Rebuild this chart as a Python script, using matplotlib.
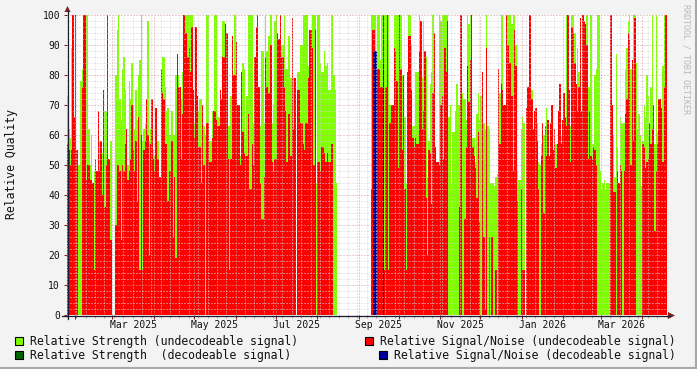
import datetime as dt

import matplotlib
matplotlib.use("Agg")
import matplotlib.dates as mdates
import matplotlib.pyplot as plt
from matplotlib.lines import Line2D
from matplotlib.patches import Polygon, Rectangle

W, H = 697, 369
START = dt.date(2025, 1, 26)

# daily values (one list per stretch of ~2 months)
strength_a = [73, 62, 59, 89, 100, 66, 60, 55, 50, 50, 78, 82, 60, 78, 100, 100, 62, 50, 60, 40,
              48, 50, 48, 50, 58, 48, 54, 67, 68, 68, 63, 48, 58, 58, 0, 0, 80, 95, 100, 72,
              65, 82, 86, 75, 60, 50, 78, 72, 84, 70, 62, 75, 65, 80, 85, 100, 58, 62, 64, 57,
              98, 58, 62, 60, 55, 53]
snr_a = [57, 55, 50, 55, 100, 66, 100, 55, 0, 0, 0, 76, 100, 100, 45, 50, 50, 45, 45, 44,
         15, 52, 48, 68, 48, 58, 40, 75, 36, 50, 100, 52, 25, 25, 0, 0, 30, 50, 50, 48,
         25, 50, 48, 57, 62, 45, 48, 52, 70, 55, 48, 58, 38, 66, 15, 60, 15, 55, 58, 72,
         60, 20, 57, 72, 52, 48]

strength_b = [63, 58, 58, 46, 60, 86, 86, 76, 68, 69, 60, 60, 68, 60, 60, 80, 80, 80, 72, 72,
              81, 100, 100, 100, 100, 100, 100, 100, 67, 64, 64, 70, 68, 72, 72, 63, 63, 60, 100, 100,
              58, 58, 68, 68, 100, 100, 66, 66, 60, 60, 98, 98, 80, 66, 63, 63, 73, 73, 73, 100,
              70, 70, 63, 53, 53]
snr_b = [69, 52, 52, 46, 82, 74, 72, 57, 57, 38, 48, 48, 58, 26, 46, 19, 87, 76, 76, 52,
         67, 100, 94, 94, 86, 89, 81, 96, 75, 59, 96, 73, 56, 56, 44, 70, 50, 0, 64, 64,
         51, 51, 59, 68, 68, 65, 63, 63, 75, 72, 86, 86, 97, 94, 52, 15, 52, 93, 80, 80,
         91, 70, 70, 50, 81]

strength_c = [84, 82, 59, 73, 100, 100, 100, 100, 64, 64, 64, 64, 63, 63, 88, 88, 64, 100, 88, 93,
              93, 100, 64, 70, 98, 100, 53, 60, 60, 90, 90, 100, 82, 82, 93, 93, 79, 95, 79, 79,
              0, 81, 81, 90, 90, 100, 100, 100, 100, 83, 83, 58, 100, 100, 100, 44, 100, 100, 84, 81,
              81, 88, 83, 84, 75, 75]
snr_c = [61, 54, 53, 53, 67, 42, 42, 57, 50, 86, 96, 100, 76, 44, 32, 32, 46, 86, 76, 74,
         74, 90, 51, 48, 52, 52, 94, 92, 100, 86, 86, 76, 68, 51, 67, 67, 53, 99, 62, 79,
         0, 75, 75, 64, 64, 57, 55, 64, 64, 79, 95, 95, 89, 50, 95, 0, 51, 51, 48, 56,
         56, 54, 51, 54, 51, 51]

strength_d = [100, 100, 80, 75, 44] + [0] * 25 + \
             [100, 100, 100, 100, 85, 100, 100, 85, 100, 100, 100, 100, 100, 100, 70, 44, 44, 100, 100, 100,
              100, 100, 100, 80, 66, 66, 44, 66, 100, 100, 90, 63, 63, 81, 81, 81]
snr_d = [57, 57, 0, 0, 0] + [0] * 25 + \
        [42, 95, 95, 0, 85, 82, 82, 76, 76, 15, 15, 76, 100, 15, 64, 70, 70, 89, 88, 78,
         49, 100, 82, 55, 80, 42, 15, 81, 93, 93, 75, 59, 56, 59, 57, 57]

strength_e = [100, 68, 79, 98, 86, 86, 46, 58, 77, 81, 100, 75, 56, 51, 51, 100, 98, 100, 100, 100,
              100, 100, 66, 70, 44, 61, 61, 68, 77, 70, 70, 74, 74, 72, 72, 65, 100, 97, 100, 100,
              59, 59, 51, 67, 74, 65, 73, 66, 64, 62, 100, 63, 62, 44, 44, 44, 43, 46, 47, 66,
              74, 100, 100, 70, 70]
snr_e = [88, 98, 62, 68, 88, 39, 20, 55, 54, 37, 74, 94, 56, 51, 51, 50, 70, 73, 52, 89,
         81, 98, 0, 0, 0, 0, 0, 0, 0, 0, 36, 100, 0, 0, 32, 56, 83, 71, 85, 100,
         56, 53, 49, 39, 61, 31, 0, 81, 26, 2, 89, 0, 26, 0, 26, 0, 0, 15, 0, 82,
         57, 77, 75, 70, 70]

strength_f = [100, 100, 100, 100, 97, 100, 100, 90, 48, 45, 45, 62, 66, 64, 0, 52, 51, 80, 92, 75,
              36, 54, 60, 64, 51, 50, 57, 60, 60, 56, 69, 43, 50, 50, 52, 50, 36, 57, 48, 60,
              63, 60, 62, 64, 60, 100, 60, 62, 63, 100, 100, 94, 72, 89, 81, 95, 68, 60, 54, 60,
              100, 76, 76, 100, 57, 57]
snr_f = [100, 90, 84, 84, 73, 48, 95, 83, 38, 0, 0, 42, 15, 15, 0, 69, 76, 100, 100, 72,
         62, 68, 69, 58, 42, 0, 53, 64, 34, 63, 53, 65, 53, 64, 70, 55, 62, 49, 57, 68,
         77, 57, 65, 74, 66, 63, 100, 75, 51, 96, 94, 84, 77, 68, 76, 99, 68, 100, 98, 97,
         90, 52, 68, 53, 52, 56]

strength_g = [80, 82, 100, 100, 48, 42, 44, 45, 42, 44, 44, 44, 81, 67, 60, 46, 87, 56, 44, 66,
              64, 64, 64, 82, 89, 98, 100, 82, 82, 100, 100, 84, 62, 67, 60, 43, 58, 70, 66, 80,
              73, 64, 76, 100, 46, 57, 100, 61, 61, 48, 66, 83, 100, 100]
snr_g = [55, 50, 0, 0, 0, 0, 0, 0, 0, 0, 0, 0, 100, 70, 41, 41, 0, 48, 44, 50,
         48, 0, 48, 67, 72, 94, 92, 50, 85, 58, 99, 0, 0, 0, 0, 0, 57, 56, 49, 51,
         52, 64, 57, 62, 70, 28, 48, 57, 72, 72, 69, 51, 76, 100]

strength = strength_a + strength_b + strength_c + strength_d + strength_e + strength_f + strength_g
snr = snr_a + snr_b + snr_c + snr_d + snr_e + snr_f + snr_g

# decodeable signal (only a few days in September 2025)
dec_strength_dates = ["2025-09-19"]
dec_strength = [100]
dec_snr_dates = ["2025-09-12", "2025-09-13", "2025-09-14", "2025-09-19"]
dec_snr = [88, 88, 88, 84]

month_labels = ["Mar 2025", "May 2025", "Jul 2025", "Sep 2025", "Nov 2025", "Jan 2026", "Mar 2026"]

days = [START + dt.timedelta(days=i) for i in range(len(strength))]
dec_s_days = [dt.date.fromisoformat(s) for s in dec_strength_dates]
dec_n_days = [dt.date.fromisoformat(s) for s in dec_snr_dates]

GREEN = "#80FF00"
RED = "#FF0000"
DGREEN = "#006600"
BLUE = "#000098"
MONO = "DejaVu Sans Mono"


def fx(x):
    return x / W


def fy(y):
    return 1 - y / H


fig = plt.figure(figsize=(W / 100, H / 100), dpi=100, facecolor="#F3F3F3")
ax = fig.add_axes([fx(67), fy(315), (666.5 - 67) / W, 300 / H])
ax.set_facecolor("white")

kw = dict(width=1.0, align="edge", linewidth=0, antialiased=False)
ax.bar(days, strength, color=GREEN, **kw)
ax.bar(days, snr, color=RED, **kw)
ax.bar(dec_s_days, dec_strength, color=DGREEN, **kw)
ax.bar(dec_n_days, dec_snr, color=BLUE, **kw)

ax.set_xlim(mdates.date2num(START), mdates.date2num(START) + 448)
ax.set_ylim(0, 100)

ax.xaxis.set_major_locator(mdates.MonthLocator())
ax.xaxis.set_minor_locator(mdates.WeekdayLocator(byweekday=mdates.SU))
ax.yaxis.set_major_locator(plt.MultipleLocator(10))
ax.yaxis.set_minor_locator(plt.MultipleLocator(2))
ax.set_axisbelow(False)
dots = (0, (1, 2))
ax.grid(which="major", color="#D49C9C", linestyle=dots, linewidth=0.72)
ax.grid(which="minor", color="#D2D2D2", linestyle=dots, linewidth=0.72)

ax.set_xticklabels([])
ax.tick_params(axis="x", which="major", length=3, color="#821E1E", width=0.75)
ax.tick_params(axis="x", which="minor", length=2, color="#AAAAAA", width=0.75)
ax.tick_params(axis="y", which="major", length=2, color="#821E1E", width=0.75, pad=3,
               labelsize=7, labelfontfamily=MONO, labelcolor="#111111")
ax.tick_params(axis="y", which="minor", length=0)
for s in ax.spines.values():
    s.set_visible(False)

# month labels centred in their month, every second month
for i, lab in enumerate(month_labels):
    y0, m0 = 2025 + (2 + 2 * i) // 12, (2 + 2 * i) % 12 + 1
    a = dt.date(y0, m0, 1)
    b = dt.date(y0 + (m0 == 12), m0 % 12 + 1, 1)
    mid = mdates.date2num(a) + (b - a).days / 2
    ax.text(mid, -0.017, lab, transform=ax.get_xaxis_transform(), ha="center", va="top",
            fontsize=7, family=MONO, color="#111111")

# axes with arrows
fig.add_artist(Line2D([fx(62), fx(670)], [fy(315.5), fy(315.5)], color="#1E1E30", lw=0.9))
fig.add_artist(Line2D([fx(67.5), fx(67.5)], [fy(319), fy(11)], color="#1E1E30", lw=0.9))
fig.add_artist(Polygon([(fx(668), fy(312)), (fx(675), fy(315.5)), (fx(668), fy(319))],
                       closed=True, color="#7F1F1F", lw=0))
fig.add_artist(Polygon([(fx(64.5), fy(12)), (fx(67.5), fy(6)), (fx(70.5), fy(12))],
                       closed=True, color="#7F1F1F", lw=0))

fig.text(fx(12), fy(164), "Relative Quality", rotation=90, ha="center", va="center",
         fontsize=8.3, family=MONO, color="#111111")
fig.text(fx(686), fy(4), "RRDTOOL / TOBI OETIKER", rotation=270, ha="center", va="top",
         fontsize=6, family=MONO, color="#B8B8B8")

# legend
legend = [
    (15, 341, 30, GREEN, "Relative Strength (undecodeable signal)"),
    (365, 341, 380, RED, "Relative Signal/Noise (undecodeable signal)"),
    (15, 355, 30, DGREEN, "Relative Strength  (decodeable signal)"),
    (379, 355, 394, BLUE, "Relative Signal/Noise (decodeable signal)"),
]
for sx, sy, tx, col, lab in legend:
    fig.add_artist(Rectangle((fx(sx), fy(sy + 4)), 8 / W, 8 / H, facecolor=col,
                             edgecolor="black", lw=0.8))
    fig.text(fx(tx), fy(sy), lab, ha="left", va="center", fontsize=8.3, family=MONO,
             color="#111111")

# frame shade
fig.add_artist(Line2D([fx(0), fx(697)], [fy(368), fy(368)], color="#A8A8A8", lw=1.5))
fig.add_artist(Line2D([fx(696), fx(696)], [fy(0), fy(369)], color="#A8A8A8", lw=1.5))

fig.savefig("out.png", dpi=100, facecolor=fig.get_facecolor())
